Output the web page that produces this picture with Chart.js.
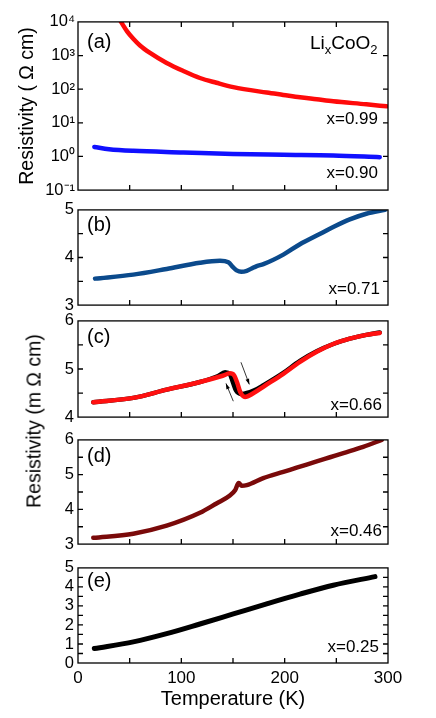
<!DOCTYPE html>
<html>
<head>
<meta charset="utf-8">
<script src="https://cdn.jsdelivr.net/npm/chart.js@4.4.1/dist/chart.umd.min.js"></script>
<style>
  html, body { margin: 0; padding: 0; background: #fff; }
  #wrap { position: relative; width: 436px; height: 718px; background: #fff; overflow: hidden; }
  #wrap canvas { position: absolute; left: 0; }
  #ytitle2 { position: absolute; left: 34px; top: 421px; transform: translate(-50%, -50%) rotate(-90deg);
    white-space: nowrap; font: 19.5px 'Liberation Sans', Arial, sans-serif; color: #000; }
</style>
</head>
<body>
<div id="wrap">
  <canvas id="cA" width="436" height="194" style="top:9px"></canvas>
  <canvas id="cB" width="436" height="123" style="top:196px"></canvas>
  <canvas id="cC" width="436" height="124" style="top:307px"></canvas>
  <canvas id="cD" width="436" height="132" style="top:426px"></canvas>
  <canvas id="cE" width="436" height="164" style="top:554px"></canvas>
  <div id="ytitle2">Resistivity (m Ω cm)</div>
</div>
<script>
// ---------------- data ----------------
const tempTickValues = [0, 50, 100, 150, 200, 250, 300];
const tempTickLabels = [0, 100, 200, 300];
const logDecades = [0.1, 1, 10, 100, 1000, 10000];

// (a) x = 0.99 (Ω cm)
const tempA99 = [41.6, 47.5, 53.5, 60, 69.7, 85.8, 102, 118, 134, 150.3, 182.6, 198.7, 214.8, 231, 247, 279, 298.7];
const resA99  = [10000, 5250, 3162, 1995, 1202, 603, 347, 215, 155, 115, 79.4, 67.6, 57.5, 50.1, 43.6, 35.5, 30.9];
// (a) x = 0.90 (Ω cm)
const tempA90 = [15.8, 30, 53.5, 102, 150, 198.7, 247, 292];
const resA90  = [1.92, 1.65, 1.47, 1.32, 1.18, 1.12, 1.07, 0.95];
// (b) x = 0.71 (mΩ cm)
const tempB71 = [16.5, 53.5, 85.8, 118, 137.4, 145.5, 150.3, 153.5, 158, 163.3, 168, 173, 179.4, 198.7, 214.8, 231, 247, 263, 279, 297];
const resB71  = [3.556, 3.64, 3.76, 3.89, 3.93, 3.90, 3.79, 3.73, 3.70, 3.72, 3.77, 3.82, 3.86, 4.06, 4.28, 4.46, 4.64, 4.80, 4.92, 5.0];
// (c) x = 0.66, black curve (mΩ cm)
const tempC66k = [14.8, 53.5, 85.8, 118, 135, 142.3, 147, 150, 153, 158.4, 170, 180, 198.7, 214.8, 231, 247, 263, 279, 292];
const resC66k  = [4.31, 4.40, 4.57, 4.73, 4.85, 4.93, 4.89, 4.72, 4.55, 4.48, 4.55, 4.67, 4.92, 5.17, 5.37, 5.52, 5.63, 5.71, 5.76];
// (c) x = 0.66, red curve (mΩ cm)
const tempC66r = [14.8, 53.5, 85.8, 118, 140, 147, 151, 154, 157, 161.6, 170, 180, 198.7, 214.8, 231, 247, 263, 279, 292];
const resC66r  = [4.31, 4.40, 4.57, 4.73, 4.86, 4.91, 4.87, 4.72, 4.52, 4.42, 4.50, 4.64, 4.90, 5.15, 5.36, 5.52, 5.63, 5.71, 5.75];
// (d) x = 0.46 (mΩ cm)
const tempD46 = [14.8, 53.5, 85.8, 118, 134, 147, 152, 155.5, 158.4, 163.3, 179.3, 198.7, 211.6, 231, 243.9, 256.8, 276, 293.9];
const resD46  = [3.18, 3.30, 3.53, 3.90, 4.17, 4.40, 4.55, 4.76, 4.68, 4.70, 4.90, 5.08, 5.20, 5.38, 5.50, 5.62, 5.80, 6.0];
// (e) x = 0.25 (mΩ cm)
const tempE25 = [15.8, 53.5, 85.8, 118, 150.3, 182.6, 214.8, 247, 287.4];
const resE25  = [0.76, 1.11, 1.54, 2.05, 2.58, 3.11, 3.62, 4.09, 4.54];

// ---------------- helpers ----------------
Chart.defaults.font.family = "'Liberation Sans', Arial, Helvetica, sans-serif";
Chart.defaults.color = '#000';

const pts = (xs, ys) => xs.map((x, i) => ({ x, y: ys[i] }));
const SUP = { '-': '\u207B', '0': '\u2070', '1': '\u00B9', '2': '\u00B2', '3': '\u00B3', '4': '\u2074' };
const supStr = n => String(n).split('').map(c => SUP[c]).join('');

const framePlugin = {
  id: 'frame',
  afterDraw(chart, args, opts) {
    const { ctx, chartArea: a } = chart;
    const xs = chart.scales.x, ys = chart.scales.y;
    ctx.save();
    ctx.strokeStyle = '#000';
    ctx.lineWidth = 1.3;
    ctx.strokeRect(a.left, a.top, a.right - a.left, a.bottom - a.top);
    const L = 5;
    ctx.beginPath();
    tempTickValues.forEach(v => {
      const px = xs.getPixelForValue(v);
      if (px <= a.left + 1 || px >= a.right - 1) return;
      ctx.moveTo(px, a.bottom); ctx.lineTo(px, a.bottom - L);
      if (opts.topTicks) { ctx.moveTo(px, a.top); ctx.lineTo(px, a.top + L); }
    });
    const yv = opts.yTicks || ys.ticks.map(t => t.value);
    yv.forEach(v => {
      const py = ys.getPixelForValue(v);
      if (py <= a.top + 1 || py >= a.bottom - 1) return;
      ctx.moveTo(a.left, py); ctx.lineTo(a.left + L, py);
      ctx.moveTo(a.right, py); ctx.lineTo(a.right - L, py);
    });
    ctx.stroke();
    // arrows (data coordinates)
    (opts.arrows || []).forEach(ar => {
      const x1 = xs.getPixelForValue(ar[0]), y1 = ys.getPixelForValue(ar[1]);
      const x2 = xs.getPixelForValue(ar[2]), y2 = ys.getPixelForValue(ar[3]);
      ctx.lineWidth = 0.8;
      ctx.beginPath(); ctx.moveTo(x1, y1); ctx.lineTo(x2, y2); ctx.stroke();
      const ang = Math.atan2(y2 - y1, x2 - x1), h = 6, w = 0.32;
      ctx.beginPath();
      ctx.moveTo(x2, y2);
      ctx.lineTo(x2 - h * Math.cos(ang - w), y2 - h * Math.sin(ang - w));
      ctx.lineTo(x2 - h * Math.cos(ang + w), y2 - h * Math.sin(ang + w));
      ctx.closePath(); ctx.fillStyle = '#000'; ctx.fill();
    });
    // texts
    ctx.fillStyle = '#000';
    ctx.textBaseline = 'middle';
    (opts.texts || []).forEach(t => {
      ctx.font = (t.size || 17) + "px 'Liberation Sans', Arial, sans-serif";
      ctx.textAlign = t.align || 'left';
      const x = t.align === 'right' ? a.right - t.dx : a.left + t.dx;
      ctx.fillText(t.text, x, a.top + t.dy);
    });
    if (opts.formula) {
      // Li_x CoO_2
      let x = a.left + opts.formula.dx, y = a.top + opts.formula.dy;
      ctx.textAlign = 'left'; ctx.textBaseline = 'alphabetic';
      const big = "19px 'Liberation Sans', Arial, sans-serif", small = "13px 'Liberation Sans', Arial, sans-serif";
      const parts = [['Li', big, 0], ['x', small, 5], ['CoO', big, 0], ['2', small, 5]];
      parts.forEach(p => { ctx.font = p[1]; ctx.fillText(p[0], x, y + p[2]); x += ctx.measureText(p[0]).width; });
    }
    ctx.restore();
  }
};

function xScale(showLabels) {
  return {
    type: 'linear', min: 0, max: 300,
    display: showLabels,
    grid: { display: false, drawTicks: false },
    border: { display: false },
    ticks: {
      stepSize: 50, padding: 5, autoSkip: false, maxRotation: 0,
      font: { size: 17 },
      callback: v => tempTickLabels.includes(v) ? String(v) : ''
    },
    title: showLabels ? { display: true, text: 'Temperature (K)', font: { size: 20 }, padding: { top: 0, bottom: 7 } } : { display: false },
    afterFit: s => { if (showLabels) s.height = 55; }
  };
}

function linY(min, max) {
  return {
    type: 'linear', min, max,
    grid: { display: false, drawTicks: false },
    border: { display: false },
    ticks: {
      stepSize: 0.5, padding: 4, autoSkip: false, font: { size: 16.5 },
      callback: v => Number.isInteger(v) ? String(v) : ''
    },
    afterFit: s => { s.width = 78; }
  };
}

function lineDs(xs, ys, color, width, order) {
  return {
    data: pts(xs, ys), borderColor: color, backgroundColor: color,
    borderWidth: width || 4.5, pointRadius: 0, tension: 0.35, order: order || 0,
    cubicInterpolationMode: 'monotone', borderCapStyle: 'round', borderJoinStyle: 'round', fill: false
  };
}

function makeChart(id, datasets, yScale, frameOpts, showX, padBottom) {
  return new Chart(document.getElementById(id), {
    type: 'line',
    data: { datasets },
    options: {
      responsive: false, animation: false, devicePixelRatio: 1,
      layout: { padding: { top: 12, bottom: padBottom, left: 0, right: 48 } },
      plugins: { legend: { display: false }, tooltip: { enabled: false }, frame: frameOpts },
      scales: { x: xScale(showX), y: yScale },
      events: []
    },
    plugins: [framePlugin]
  });
}

// (a)
makeChart('cA', [
  lineDs(tempA99, resA99, '#ff0a0a', 4.5),
  lineDs(tempA90, resA90, '#1010ff', 4.5)
], {
  type: 'logarithmic', min: 0.1, max: 10000,
  grid: { display: false, drawTicks: false },
  border: { display: false },
  ticks: {
    padding: 3, autoSkip: false, font: { size: 16.5 },
    callback: v => {
      const e = Math.round(Math.log10(v));
      return Math.abs(Math.log10(v) - e) < 1e-9 ? '10' + supStr(e) : '';
    }
  },
  title: { display: true, text: 'Resistivity ( Ω cm)', font: { size: 19.5 }, padding: { top: 16, bottom: 0 } },
  afterFit: s => { s.width = 78; }
}, {
  topTicks: true, yTicks: logDecades,
  texts: [
    { text: '(a)', dx: 9, dy: 21, size: 20 },
    { text: 'x=0.99', dx: 10, dy: 97, align: 'right', size: 17 },
    { text: 'x=0.90', dx: 10, dy: 151, align: 'right', size: 17 }
  ],
  formula: { dx: 232, dy: 27 }
}, false, 12);

// (b)
makeChart('cB', [lineDs(tempB71, resB71, '#0b4a8c', 4.5)], linY(3, 5), {
  texts: [
    { text: '(b)', dx: 9, dy: 16, size: 20 },
    { text: 'x=0.71', dx: 8, dy: 79, align: 'right', size: 17 }
  ]
}, false, 12);

// (c)  red is drawn on top of black (lower order = on top)
makeChart('cC', [
  lineDs(tempC66k, resC66k, '#000000', 4.5, 2),
  lineDs(tempC66r, resC66r, '#ff1010', 4.5, 1)
], linY(4, 6), {
  texts: [
    { text: '(c)', dx: 9, dy: 17, size: 20 },
    { text: 'x=0.66', dx: 6, dy: 84, align: 'right', size: 17 }
  ],
  arrows: [[150.3, 4.33, 143.2, 4.70], [157.7, 5.14, 165.8, 4.68]]
}, false, 12);

// (d)
makeChart('cD', [lineDs(tempD46, resD46, '#7a0a0a', 4.5)], linY(3, 6), {
  texts: [
    { text: '(d)', dx: 9, dy: 17, size: 20 },
    { text: 'x=0.46', dx: 6, dy: 91, align: 'right', size: 17 }
  ]
}, false, 12);

// (e)
makeChart('cE', [lineDs(tempE25, resE25, '#000000', 5)], linY(0, 5), {
  texts: [
    { text: '(e)', dx: 9, dy: 14, size: 20 },
    { text: 'x=0.25', dx: 9, dy: 79, align: 'right', size: 17 }
  ]
}, true, 0);
</script>
</body>
</html>
